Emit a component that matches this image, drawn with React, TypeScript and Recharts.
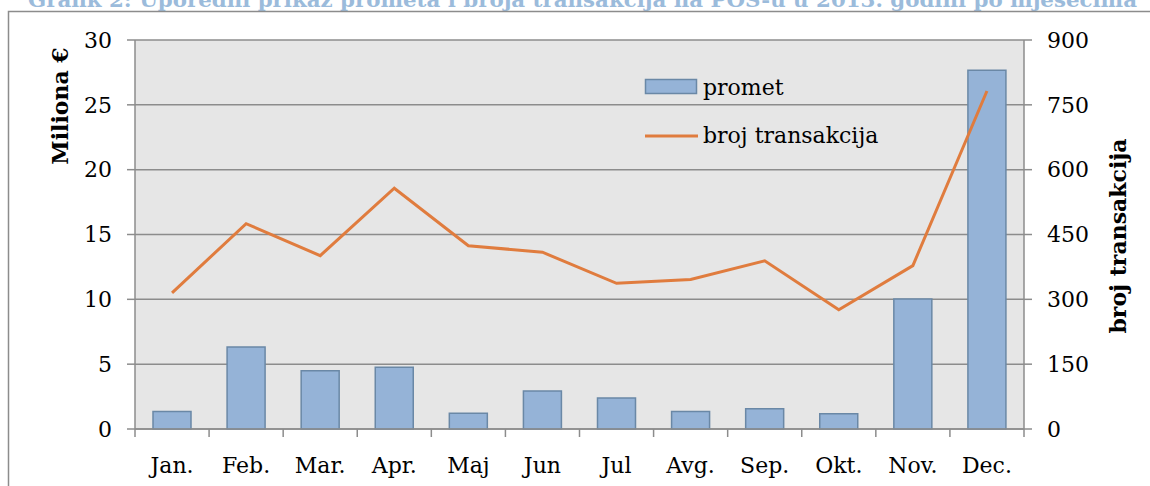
import React from 'react';
import { ComposedChart, Bar, Line, XAxis, YAxis, CartesianGrid, Legend } from 'recharts';

const months = ['Jan.', 'Feb.', 'Mar.', 'Apr.', 'Maj', 'Jun', 'Jul', 'Avg.', 'Sep.', 'Okt.', 'Nov.', 'Dec.'];
const promet = [1.35, 6.33, 4.5, 4.77, 1.22, 2.93, 2.39, 1.34, 1.57, 1.18, 10.02, 27.67];
const brojTransakcija = [315, 475, 401, 557, 424, 409, 337, 346, 389, 276, 378, 782];
const leftTicks = [0, 5, 10, 15, 20, 25, 30];
const rightTicks = [0, 150, 300, 450, 600, 750, 900];

const data = months.map((m, i) => ({ month: m, promet: promet[i], broj: brojTransakcija[i] }));

const FONT = '"DejaVu Serif", "Liberation Serif", serif';
const FS = 22;
const AXIS_GRAY = '#8c8c8c';
const BAR_FILL = '#95b3d7';
const BAR_STROKE = '#6a88a6';
const LINE_COLOR = '#e07c3e';
const TICK_SIZE = 8;
const X_TICK_MARGIN = 20;

const XTick = (props: any) => {
  const { x, y, payload, index, visibleTicksCount, width } = props;
  const count = visibleTicksCount || months.length;
  const step = (width || 889) / count;
  const y0 = y - TICK_SIZE - X_TICK_MARGIN;
  return (
    <g>
      <line x1={x - step / 2} x2={x - step / 2} y1={y0} y2={y0 + TICK_SIZE} stroke={AXIS_GRAY} strokeWidth={1.5} />
      {index === count - 1 && (
        <line x1={x + step / 2} x2={x + step / 2} y1={y0} y2={y0 + TICK_SIZE} stroke={AXIS_GRAY} strokeWidth={1.5} />
      )}
      <text x={x} y={y0 + 44} textAnchor="middle" fontFamily={FONT} fontSize={FS} fill="#000">
        {payload.value}
      </text>
    </g>
  );
};

const renderLegend = () => (
  <svg width={280} height={90} style={{ display: 'block', overflow: 'visible' }}>
    <rect x={5.5} y={9.5} width={51} height={14} fill={BAR_FILL} stroke={BAR_STROKE} strokeWidth={1.5} />
    <text x={63} y={25} fontFamily={FONT} fontSize={FS} fill="#000">promet</text>
    <line x1={5} x2={58} y1={66} y2={66} stroke={LINE_COLOR} strokeWidth={3} />
    <text x={63} y={73} fontFamily={FONT} fontSize={FS} fill="#000">broj transakcija</text>
  </svg>
);

const LeftTitle = () => (
  <text transform="translate(60,106) rotate(-90)" textAnchor="middle" dominantBaseline="central"
    fontFamily={FONT} fontSize={FS} fontWeight="bold" fill="#000">Miliona €</text>
);

const RightTitle = () => (
  <text transform="translate(1118,236) rotate(-90)" textAnchor="middle" dominantBaseline="central"
    fontFamily={FONT} fontSize={FS} fontWeight="bold" fill="#000">broj transakcija</text>
);

export default function App() {
  return (
    <div style={{ position: 'absolute', left: 0, top: 0, width: 1150, height: 486, overflow: 'hidden', background: '#fff' }}>
      <svg width={1150} height={486} style={{ position: 'absolute', left: 0, top: 0 }}>
        <text x={28} y={6.5} textLength={1109} lengthAdjust="spacingAndGlyphs" fontFamily={FONT} fontSize={21}
          fontWeight="bold" fill="#9bbbdb">
          Grafik 2: Uporedni prikaz prometa i broja transakcija na POS-u u 2013. godini po mjesecima
        </text>
        <path d="M8.5,486 L8.5,11.5 L1150,11.5" fill="none" stroke={AXIS_GRAY} strokeWidth={1.5} />
      </svg>
      <div style={{ position: 'absolute', left: 0, top: 0 }}>
        <ComposedChart width={1150} height={486} data={data} margin={{ top: 40, right: 0, bottom: 0, left: 0 }}>
          <CartesianGrid yAxisId="left" vertical={false} stroke={AXIS_GRAY} strokeWidth={1.5} fill="#e6e6e6" fillOpacity={1} />
          <XAxis dataKey="month" height={57} tickSize={TICK_SIZE} tickMargin={X_TICK_MARGIN} tickLine={false}
            axisLine={{ stroke: AXIS_GRAY, strokeWidth: 1.5 }} tick={<XTick />} interval={0} />
          <YAxis yAxisId="left" orientation="left" width={135} domain={[0, 30]} ticks={leftTicks} interval={0}
            tickSize={TICK_SIZE} tickMargin={15} axisLine={{ stroke: AXIS_GRAY, strokeWidth: 1.5 }}
            tickLine={{ stroke: AXIS_GRAY, strokeWidth: 1.5 }}
            tick={{ fontFamily: FONT, fontSize: FS, fill: '#000' }} label={<LeftTitle />} />
          <YAxis yAxisId="right" orientation="right" width={126} domain={[0, 900]} ticks={rightTicks} interval={0}
            tickSize={TICK_SIZE} tickMargin={15} axisLine={{ stroke: AXIS_GRAY, strokeWidth: 1.5 }}
            tickLine={{ stroke: AXIS_GRAY, strokeWidth: 1.5 }}
            tick={{ fontFamily: FONT, fontSize: FS, fill: '#000' }} label={<RightTitle />} />
          <Legend content={renderLegend} layout="vertical" align="center" verticalAlign="middle"
            wrapperStyle={{ left: 640, top: 70, width: 280, height: 90 }} />
          <Bar yAxisId="left" dataKey="promet" name="promet" barSize={38} fill={BAR_FILL} stroke={BAR_STROKE}
            strokeWidth={1.5} isAnimationActive={false} />
          <Line yAxisId="right" dataKey="broj" name="broj transakcija" type="linear" stroke={LINE_COLOR}
            strokeWidth={3} dot={false} activeDot={false} isAnimationActive={false} />
        </ComposedChart>
      </div>
    </div>
  );
}
